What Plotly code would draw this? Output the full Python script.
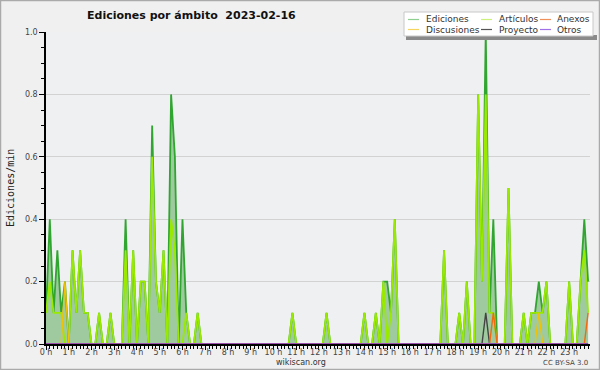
import plotly.graph_objects as go

# ---- data: edits per minute, one value per 10-minute bin (00:00 .. 23:50) ----
hour_labels = [f"{h} h" for h in range(24)]

ediciones = [
    0.1, 0.4, 0.1, 0.3, 0.1, 0.2, 0, 0.3, 0.1, 0.3, 0.1, 0.1,
    0, 0, 0.1, 0, 0, 0.1, 0, 0, 0, 0.4, 0, 0.3,
    0, 0.2, 0.2, 0, 0.7, 0.2, 0.1, 0.3, 0, 0.8, 0.6, 0,
    0.4, 0.1, 0, 0, 0.1, 0, 0, 0, 0, 0, 0, 0,
    0, 0, 0, 0, 0, 0, 0, 0, 0, 0, 0, 0,
    0, 0, 0, 0, 0, 0.1, 0, 0, 0, 0, 0, 0,
    0, 0, 0.1, 0, 0, 0, 0, 0, 0, 0, 0, 0,
    0.1, 0, 0, 0.1, 0, 0.2, 0.2, 0.1, 0.4, 0, 0, 0,
    0, 0, 0, 0, 0, 0, 0, 0, 0, 0.3, 0, 0,
    0, 0.1, 0, 0.2, 0, 0, 0.8, 0.2, 1.0, 0.1, 0.4, 0,
    0, 0, 0.5, 0, 0, 0, 0.1, 0, 0.1, 0.1, 0.2, 0.1,
    0.2, 0, 0, 0, 0, 0, 0.2, 0, 0, 0.2, 0.4, 0.2,
]
articulos = [
    0.1, 0.2, 0.1, 0.1, 0.1, 0, 0, 0.3, 0.1, 0.3, 0.1, 0.1,
    0, 0, 0.1, 0, 0, 0.1, 0, 0, 0, 0.3, 0, 0.3,
    0, 0.2, 0.2, 0, 0.6, 0.2, 0.1, 0.3, 0, 0.4, 0.3, 0,
    0, 0.1, 0, 0, 0.1, 0, 0, 0, 0, 0, 0, 0,
    0, 0, 0, 0, 0, 0, 0, 0, 0, 0, 0, 0,
    0, 0, 0, 0, 0, 0.1, 0, 0, 0, 0, 0, 0,
    0, 0, 0.1, 0, 0, 0, 0, 0, 0, 0, 0, 0,
    0.1, 0, 0, 0.1, 0, 0.2, 0, 0.1, 0.4, 0, 0, 0,
    0, 0, 0, 0, 0, 0, 0, 0, 0, 0.3, 0, 0,
    0, 0.1, 0, 0.2, 0, 0, 0.8, 0.2, 0.8, 0.1, 0.1, 0,
    0, 0, 0.5, 0, 0, 0, 0.1, 0, 0.1, 0.1, 0.1, 0.1,
    0.2, 0, 0, 0, 0, 0, 0.2, 0, 0, 0.2, 0.3, 0.1,
]
discusiones = [0] * 144
discusiones[5] = 0.2
discusiones[130] = 0.1
proyecto = [0] * 144
proyecto[116] = 0.1
anexos = [0] * 144
anexos[118] = 0.1
anexos[143] = 0.1
otros = [0] * 144

names = ["Ediciones", "Artículos", "Discusiones", "Proyecto", "Anexos", "Otros"]
values = [ediciones, articulos, discusiones, proyecto, anexos, otros]
colors = ["#30a530", "#99ea00", "#f2c200", "#444444", "#f26a10", "#8a48dc"]
legend_colors = ["#8fcf8f", "#cdf07a", "#f5d560", "#555555", "#f0905a", "#a070e8"]

x = [b / 6 for b in range(len(ediciones))]

# ---- geometry ----
W, H = 600, 370
L, R, T, B = 46, 10, 32, 26
PW, PH = W - L - R, H - T - B


def px(v):
    return (v - L) / PW


def py(v):
    return (H - B - v) / PH


fig = go.Figure()
for i, (nm, vals, col) in enumerate(zip(names, values, colors)):
    kw = {}
    if i == 0:
        kw = dict(fill="tozeroy", fillcolor="#9fca9f")
    fig.add_trace(go.Scatter(
        x=x, y=vals, name=nm, mode="lines",
        line=dict(color=col, width=1.8 if i < 2 else 1.4),
        showlegend=False, hoverinfo="skip", **kw))

tickfont = dict(family="DejaVu Sans", size=8, color="#444")

fig.update_xaxes(
    range=[0, 143.5 / 6], tickmode="array", tickvals=list(range(24)), ticktext=hour_labels,
    ticks="outside", ticklen=4, tickcolor="black", tickwidth=1,
    minor=dict(dtick=1 / 6, ticks="outside", ticklen=3, tickcolor="black", showgrid=False),
    showline=True, linecolor="black", linewidth=1.5, showgrid=False, zeroline=False,
    tickfont=tickfont, fixedrange=True, ticklabelstandoff=-4,
)
fig.update_yaxes(
    range=[0, 1.0], tickvals=[0, 0.2, 0.4, 0.6, 0.8, 1.0], tickformat=".1f",
    ticks="outside", ticklen=5, tickcolor="black",
    minor=dict(dtick=0.05, ticks="outside", ticklen=3, tickcolor="black", showgrid=False),
    showline=True, linecolor="black", linewidth=1.5,
    showgrid=True, gridcolor="#d2d2d2", gridwidth=1, zeroline=False,
    tickfont=tickfont, fixedrange=True,
)

shapes = [
    # outer frame
    dict(type="rect", xref="paper", yref="paper", x0=px(0.5), x1=px(W - 0.5), y0=py(H - 0.5), y1=py(0.5),
         line=dict(color="#aaaaaa", width=1.5), fillcolor="rgba(0,0,0,0)", layer="above"),
    # legend shadow + box
    dict(type="rect", xref="paper", yref="paper", x0=px(406), x1=px(597), y0=py(40), y1=py(35),
         line=dict(width=0), fillcolor="#8a8a8a", layer="above"),
    dict(type="rect", xref="paper", yref="paper", x0=px(404), x1=px(593), y0=py(36), y1=py(12),
         line=dict(color="#c8c8c8", width=1), fillcolor="#ffffff", layer="above"),
]
annotations = [
    dict(text="<b>Ediciones por ámbito\u00a0 2023-02-16</b>", xref="paper", yref="paper",
         x=px(85), y=py(16), xanchor="left", yanchor="middle", showarrow=False,
         font=dict(family="DejaVu Sans", size=11, color="#111")),
    dict(text="Ediciones/min", xref="paper", yref="paper", x=px(10), y=py(188), textangle=-90,
         xanchor="center", yanchor="middle", showarrow=False,
         font=dict(family="DejaVu Sans Mono", size=10, color="#222")),
    dict(text="wikiscan.org", xref="paper", yref="paper", x=px(301), y=py(362),
         xanchor="center", yanchor="middle", showarrow=False,
         font=dict(family="DejaVu Sans", size=8, color="#333")),
    dict(text="CC BY-SA 3.0", xref="paper", yref="paper", x=px(590), y=py(363),
         xanchor="right", yanchor="middle", showarrow=False,
         font=dict(family="DejaVu Sans", size=7, color="#444")),
]

# manual legend laid out in 3 columns x 2 rows, like the reference
order = [0, 2, 1, 3, 4, 5]  # Ediciones, Discusiones | Artículos, Proyecto | Anexos, Otros
col_line_x = [408, 481, 540]
col_text_x = [424, 497, 555]
row_y = [19.5, 29.5]
for k, idx in enumerate(order):
    c, r = divmod(k, 2)
    shapes.append(dict(type="line", xref="paper", yref="paper",
                       x0=px(col_line_x[c]), x1=px(col_line_x[c] + 11),
                       y0=py(row_y[r]), y1=py(row_y[r]),
                       line=dict(color=legend_colors[idx], width=1.2), layer="above"))
    annotations.append(dict(text=names[idx], xref="paper", yref="paper",
                            x=px(col_text_x[c]), y=py(row_y[r]), xanchor="left", yanchor="middle",
                            showarrow=False, font=dict(family="DejaVu Sans", size=9, color="#333")))

fig.update_layout(
    width=W, height=H, margin=dict(l=L, r=R, t=T, b=B, autoexpand=False),
    paper_bgcolor="#f0f0f0", plot_bgcolor="#eef0f2",
    showlegend=False, shapes=shapes, annotations=annotations,
)

fig.write_html("out.html", config={"displayModeBar": False},
               post_script="document.body.style.margin='0';document.body.style.overflow='hidden';")
